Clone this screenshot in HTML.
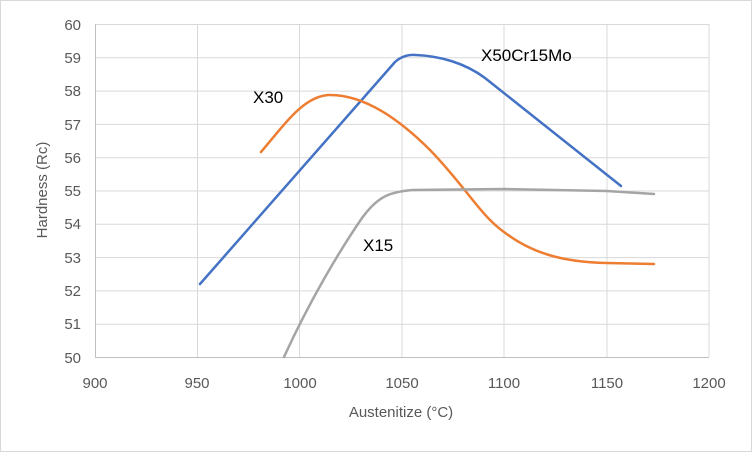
<!DOCTYPE html>
<html><head><style>body{margin:0;background:#fff}svg{display:block;font-family:"Liberation Sans",sans-serif}</style></head><body>
<svg width="752" height="452" viewBox="0 0 752 452">
<rect x="0.5" y="0.5" width="751" height="451" fill="#fff" stroke="#d9d9d9"/>
<g stroke="#d9d9d9" stroke-width="1">
<line x1="95" y1="24.5" x2="709" y2="24.5"/><line x1="95" y1="57.8" x2="709" y2="57.8"/><line x1="95" y1="91.1" x2="709" y2="91.1"/><line x1="95" y1="124.4" x2="709" y2="124.4"/><line x1="95" y1="157.7" x2="709" y2="157.7"/><line x1="95" y1="191" x2="709" y2="191"/><line x1="95" y1="224.3" x2="709" y2="224.3"/><line x1="95" y1="257.6" x2="709" y2="257.6"/><line x1="95" y1="290.9" x2="709" y2="290.9"/><line x1="95" y1="324.2" x2="709" y2="324.2"/>
<line x1="197.5" y1="24" x2="197.5" y2="357"/><line x1="299.5" y1="24" x2="299.5" y2="357"/><line x1="402" y1="24" x2="402" y2="357"/><line x1="504" y1="24" x2="504" y2="357"/><line x1="607" y1="24" x2="607" y2="357"/><line x1="709" y1="24" x2="709" y2="357"/>
</g>
<line x1="95" y1="357.5" x2="709" y2="357.5" stroke="#bfbfbf"/>
<line x1="95.5" y1="24" x2="95.5" y2="357" stroke="#bfbfbf"/>
<g font-size="15" fill="#595959" text-anchor="end">
<text x="81" y="30">60</text><text x="81" y="63">59</text><text x="81" y="96">58</text><text x="81" y="130">57</text><text x="81" y="163">56</text><text x="81" y="196">55</text><text x="81" y="229">54</text><text x="81" y="263">53</text><text x="81" y="296">52</text><text x="81" y="329">51</text><text x="81" y="363">50</text>
</g>
<g font-size="15" fill="#595959" text-anchor="middle">
<text x="95" y="388">900</text><text x="197" y="388">950</text><text x="300" y="388">1000</text><text x="402" y="388">1050</text><text x="504" y="388">1100</text><text x="607" y="388">1150</text><text x="709" y="388">1200</text>
<text x="401" y="417">Austenitize (°C)</text>
<text transform="translate(47,190) rotate(-90)">Hardness (Rc)</text>
</g>
<g fill="none" stroke-width="2.5" stroke-linecap="round" stroke-linejoin="round">
<path d="M200,284 L395,62 Q404,54 416,55 C440,56 465,63 485,78 L621,186" stroke="#4472c4"/>
<path d="M261,152 C285,124 303,97 328,95 C360,94 395,115 430,150 C465,186 480,215 504,232 C530,252 560,262 607,263 L654,264" stroke="#ed7d31"/>
<path d="M284,357 C310,300 340,250 362,218 C378,196 390,192 412,190 L504,189 L607,191 L654,194" stroke="#a5a5a5"/>
</g>
<g font-size="17" fill="#000">
<text x="253" y="103">X30</text><text x="481" y="61">X50Cr15Mo</text><text x="363" y="251">X15</text>
</g>
</svg>
</body></html>
